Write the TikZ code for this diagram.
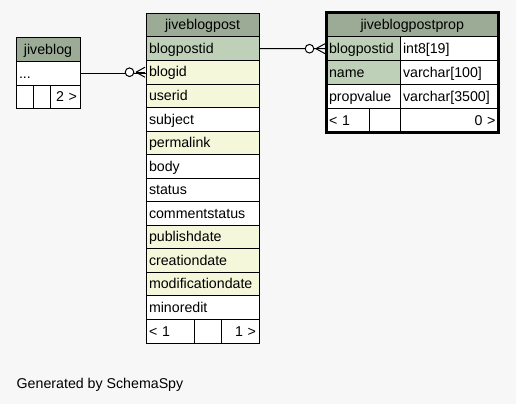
\documentclass[tikz,border=0pt]{standalone}
\usepackage{fontspec}
\setmainfont{Liberation Sans}
\definecolor{bg}{HTML}{F7F7F7}
\definecolor{hdr}{HTML}{9BAB96}
\definecolor{pk}{HTML}{BED1B8}
\definecolor{fk}{HTML}{F4F7DA}
\newcommand\fs{\fontsize{14.2}{16}\selectfont}
\tikzset{
  cell/.style={draw=black, line width=1pt, anchor=north west, inner xsep=3pt, inner ysep=0pt, outer sep=0pt, font=\fs, text height=11.5pt, text depth=2pt},
  conn/.style={draw=black, line width=1pt},
}
\newcommand\tcell[8]{\pgfmathsetmacro\tw{#4-6}\node[cell, fill=#6, minimum width=#4pt, minimum height=#5pt, text width=\tw pt, align=#7] (#1) at (#2pt,-#3pt) {#8};}
\newcommand\crowend[1]{%
  \draw[conn, fill=white] ([xshift=-16.5pt]#1.west) circle (4.3pt);
  \draw[conn] ([xshift=-10pt]#1.west) -- ([yshift=5pt,xshift=-1pt]#1.west);
  \draw[conn] ([xshift=-10pt]#1.west) -- ([yshift=-5pt,xshift=-1pt]#1.west);
  \draw[conn] ([xshift=-10pt]#1.west) -- ([xshift=-1pt]#1.west);
}
\begin{document}
\begin{tikzpicture}
\useasboundingbox (0,0) rectangle (516pt,-404pt);
\fill[bg] (0,0) rectangle (516pt,-404pt);
% jiveblog
\tcell{bh}{16}{38}{64}{23.5}{hdr}{center}{jiveblog}
\tcell{br1}{16}{61.5}{64}{23.5}{white}{left}{...}
\tcell{bf1}{16}{85}{17}{23.5}{white}{left}{}
\tcell{bf2}{33}{85}{17}{23.5}{white}{left}{}
\tcell{bf3}{50}{85}{30}{23.5}{white}{right}{2 >}
% jiveblogpost
\tcell{jh}{146}{13.3}{113}{23.6}{hdr}{center}{jiveblogpost}
\tcell{jr0}{146}{36.9}{113}{23.55}{pk}{left}{blogpostid}
\tcell{jr1}{146}{60.45}{113}{23.55}{fk}{left}{blogid}
\tcell{jr2}{146}{84.0}{113}{23.55}{fk}{left}{userid}
\tcell{jr3}{146}{107.55}{113}{23.55}{white}{left}{subject}
\tcell{jr4}{146}{131.1}{113}{23.55}{fk}{left}{permalink}
\tcell{jr5}{146}{154.65}{113}{23.55}{white}{left}{body}
\tcell{jr6}{146}{178.2}{113}{23.55}{white}{left}{status}
\tcell{jr7}{146}{201.75}{113}{23.55}{white}{left}{commentstatus}
\tcell{jr8}{146}{225.3}{113}{23.55}{fk}{left}{publishdate}
\tcell{jr9}{146}{248.85}{113}{23.55}{fk}{left}{creationdate}
\tcell{jr10}{146}{272.4}{113}{23.55}{fk}{left}{modificationdate}
\tcell{jr11}{146}{295.95}{113}{23.55}{white}{left}{minoredit}
\tcell{jf1}{146}{319.5}{48}{23.55}{white}{left}{< 1}
\tcell{jf2}{194}{319.5}{27}{23.55}{white}{left}{}
\tcell{jf3}{221}{319.5}{38}{23.55}{white}{right}{1 >}
% jiveblogpostprop
\tcell{ph}{326}{12.3}{172.5}{24.4}{hdr}{center}{jiveblogpostprop}
\tcell{pk1}{326}{36.7}{74}{24}{pk}{left}{blogpostid}
\tcell{pt1}{400}{36.7}{98.5}{24}{white}{left}{int8[19]}
\tcell{pk2}{326}{60.7}{74}{24}{pk}{left}{name}
\tcell{pt2}{400}{60.7}{98.5}{24}{white}{left}{varchar[100]}
\tcell{pk3}{326}{84.7}{74}{24}{white}{left}{propvalue}
\tcell{pt3}{400}{84.7}{98.5}{24}{white}{left}{varchar[3500]}
\tcell{pf1}{326}{108.7}{43.5}{24}{white}{left}{< 1}
\tcell{pf2}{369.5}{108.7}{30.5}{24}{white}{left}{}
\tcell{pf3}{400}{108.7}{98.5}{24}{white}{right}{0 >}
\draw[line width=3pt] (ph.north west) rectangle (pf3.south east);
% connectors
\draw[conn] (br1.east) -- (br1.east -| jr1.west);
\crowend{jr1}
\draw[conn] (jr0.east) -- (pk1.west);
\crowend{pk1}
% footer text
\node[anchor=base west, font=\fs, inner sep=0pt] (gen) at (16.5pt,-388pt) {Generated by SchemaSpy};
\end{tikzpicture}
\end{document}
